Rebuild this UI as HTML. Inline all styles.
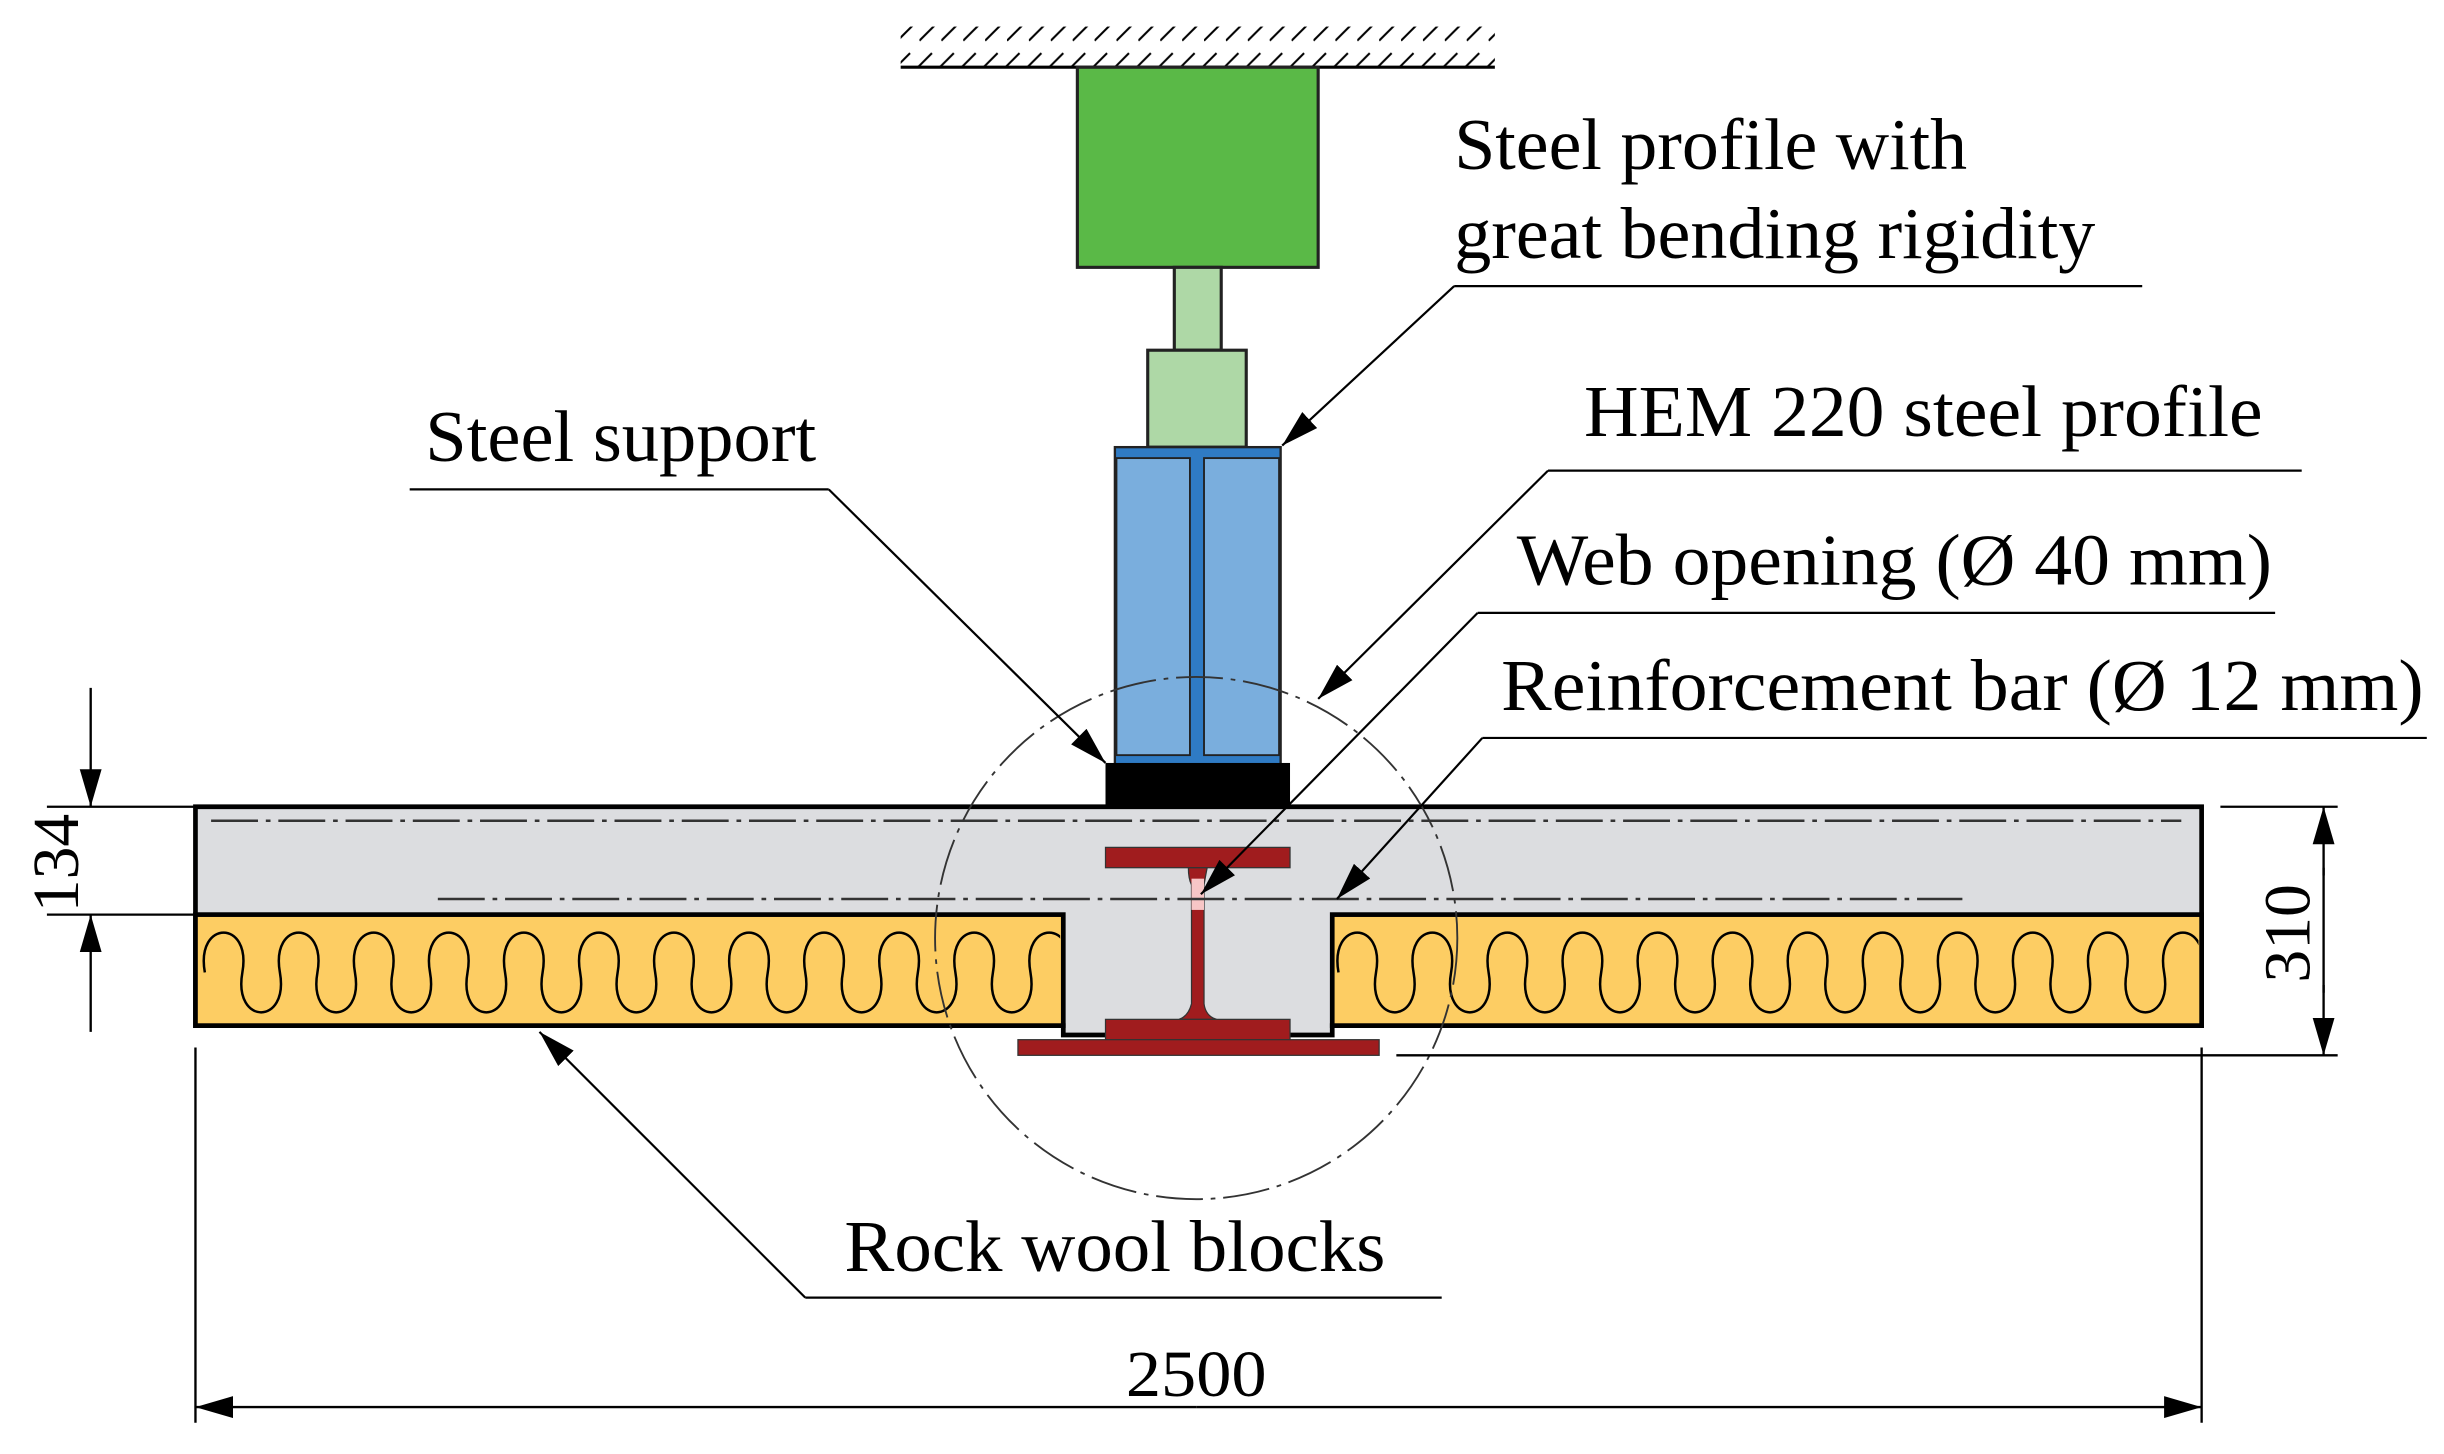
<!DOCTYPE html>
<html><head><meta charset="utf-8"><style>
html,body{margin:0;padding:0;background:#fff;}
svg{display:block;}
text{font-family:"Liberation Serif",serif;fill:#000;}
</style></head><body>
<svg width="2444" height="1454" viewBox="0 0 1563 930" preserveAspectRatio="none" xmlns="http://www.w3.org/2000/svg">
<defs>
<marker id="ah" markerUnits="userSpaceOnUse" markerWidth="26" markerHeight="14" refX="24" refY="7" orient="auto">
<path d="M0,0 L24,7 L0,14 Z" fill="#000"/>
</marker>
<clipPath id="cl"><rect x="127" y="587" width="551" height="67"/></clipPath>
<clipPath id="cr"><rect x="854" y="587" width="552" height="67"/></clipPath>
<pattern id="hatch" width="14" height="30" patternUnits="userSpaceOnUse">
<line x1="0" y1="26" x2="22" y2="4" stroke="#000" stroke-width="1.3"/>
<line x1="-14" y1="26" x2="8" y2="4" stroke="#000" stroke-width="1.3"/>
</pattern>
</defs>

<rect x="576" y="17" width="380" height="26" fill="url(#hatch)"/>
<line x1="576" y1="43" x2="956" y2="43" stroke="#000" stroke-width="2"/>

<rect x="689" y="43" width="154" height="128" fill="#5ab947" stroke="#222" stroke-width="2"/>
<rect x="751" y="171" width="30" height="53" fill="#aed8a6" stroke="#222" stroke-width="2"/>
<rect x="734" y="224" width="63" height="62" fill="#aed8a6" stroke="#222" stroke-width="2"/>

<rect x="713" y="286" width="106" height="204" fill="#2f7bc4" stroke="#222" stroke-width="1.5"/>
<rect x="714" y="293" width="47" height="190" fill="#7aaedd" stroke="#222" stroke-width="1.2"/>
<rect x="770" y="293" width="48" height="190" fill="#7aaedd" stroke="#222" stroke-width="1.2"/>

<rect x="707" y="488" width="118" height="28" fill="#000"/>

<path d="M125,516 H1408 V656 H852 V662 H680 V656 H125 Z" fill="#dcdde0" stroke="#000" stroke-width="3"/>
<rect x="125" y="585" width="555" height="71" fill="#fdcd63" stroke="#000" stroke-width="3"/>
<rect x="852" y="585" width="556" height="71" fill="#fdcd63" stroke="#000" stroke-width="3"/>
<g fill="none" stroke="#000" stroke-width="1.6">
<path clip-path="url(#cl)" d="M131,622 c-6,-34 30,-34 24,0 c-6,34 30,34 24,0 c-6,-34 30,-34 24,0 c-6,34 30,34 24,0 c-6,-34 30,-34 24,0 c-6,34 30,34 24,0 c-6,-34 30,-34 24,0 c-6,34 30,34 24,0 c-6,-34 30,-34 24,0 c-6,34 30,34 24,0 c-6,-34 30,-34 24,0 c-6,34 30,34 24,0 c-6,-34 30,-34 24,0 c-6,34 30,34 24,0 c-6,-34 30,-34 24,0 c-6,34 30,34 24,0 c-6,-34 30,-34 24,0 c-6,34 30,34 24,0 c-6,-34 30,-34 24,0 c-6,34 30,34 24,0 c-6,-34 30,-34 24,0 c-6,34 30,34 24,0 c-6,-34 30,-34 24,0 c-6,34 30,34 24,0"/>
<path clip-path="url(#cr)" d="M856,622 c-6,-34 30,-34 24,0 c-6,34 30,34 24,0 c-6,-34 30,-34 24,0 c-6,34 30,34 24,0 c-6,-34 30,-34 24,0 c-6,34 30,34 24,0 c-6,-34 30,-34 24,0 c-6,34 30,34 24,0 c-6,-34 30,-34 24,0 c-6,34 30,34 24,0 c-6,-34 30,-34 24,0 c-6,34 30,34 24,0 c-6,-34 30,-34 24,0 c-6,34 30,34 24,0 c-6,-34 30,-34 24,0 c-6,34 30,34 24,0 c-6,-34 30,-34 24,0 c-6,34 30,34 24,0 c-6,-34 30,-34 24,0 c-6,34 30,34 24,0 c-6,-34 30,-34 24,0 c-6,34 30,34 24,0 c-6,-34 30,-34 24,0 c-6,34 30,34 24,0"/>
</g>

<g fill="#a01c1e" stroke="#333" stroke-width="0.8">
<rect x="707" y="542" width="118" height="13"/>
<path d="M760,555 Q760,562 762,566 V642 Q760,650 754,652 H778 Q771,650 770,642 V566 Q771,560 772,555 Z"/>
<rect x="707" y="652" width="118" height="13"/>
<rect x="651" y="665" width="231" height="10"/>
</g>
<rect x="762" y="562" width="8" height="20" fill="#f7c6c6"/>

<g stroke="#333" stroke-width="1.6" stroke-dasharray="30 5 3 5" fill="none">
<line x1="135" y1="525" x2="1395" y2="525"/>
<line x1="280" y1="575" x2="1255" y2="575"/>
<circle cx="765" cy="600" r="167" stroke-width="1.2"/>
</g>

<g stroke="#000" stroke-width="1.5" fill="none">
<line x1="30" y1="516" x2="125" y2="516"/>
<line x1="30" y1="585" x2="125" y2="585"/>
<line x1="58" y1="440" x2="58" y2="516" marker-end="url(#ah)"/>
<line x1="58" y1="660" x2="58" y2="585" marker-end="url(#ah)"/>
<line x1="1420" y1="516" x2="1495" y2="516"/>
<line x1="893" y1="675" x2="1495" y2="675"/>
<line x1="1486" y1="560" x2="1486" y2="516" marker-end="url(#ah)"/>
<line x1="1486" y1="630" x2="1486" y2="675" marker-end="url(#ah)"/>
<line x1="1486" y1="555" x2="1486" y2="635"/>
<line x1="125" y1="670" x2="125" y2="910"/>
<line x1="1408" y1="670" x2="1408" y2="910"/>
<line x1="765" y1="900" x2="125" y2="900" marker-end="url(#ah)"/>
<line x1="765" y1="900" x2="1408" y2="900" marker-end="url(#ah)"/>
</g>
<text x="0" y="0" font-size="42" transform="translate(50,552) rotate(-90)" text-anchor="middle">134</text>
<text x="0" y="0" font-size="42" transform="translate(1477,597) rotate(-90)" text-anchor="middle">310</text>
<text x="720" y="893" font-size="42" textLength="90" lengthAdjust="spacingAndGlyphs">2500</text>

<g stroke="#000" stroke-width="1.4" fill="none">
<line x1="930" y1="183" x2="1370" y2="183"/>
<line x1="930" y1="183" x2="820" y2="285" marker-end="url(#ah)"/>
<line x1="262" y1="313" x2="530" y2="313"/>
<line x1="530" y1="313" x2="707" y2="488" marker-end="url(#ah)"/>
<line x1="990" y1="301" x2="1472" y2="301"/>
<line x1="990" y1="301" x2="843" y2="447" marker-end="url(#ah)"/>
<line x1="945" y1="392" x2="1455" y2="392"/>
<line x1="945" y1="392" x2="768" y2="572" marker-end="url(#ah)"/>
<line x1="948" y1="472" x2="1552" y2="472"/>
<line x1="948" y1="472" x2="855" y2="575" marker-end="url(#ah)"/>
<line x1="515" y1="830" x2="922" y2="830"/>
<line x1="515" y1="830" x2="345" y2="660" marker-end="url(#ah)"/>
</g>

<g font-size="47">
<text x="930" y="108" textLength="328" lengthAdjust="spacingAndGlyphs">Steel profile with</text>
<text x="930" y="165" textLength="410" lengthAdjust="spacingAndGlyphs">great bending rigidity</text>
<text x="272" y="295" textLength="250" lengthAdjust="spacingAndGlyphs">Steel support</text>
<text x="1013" y="279" textLength="434" lengthAdjust="spacingAndGlyphs">HEM 220 steel profile</text>
<text x="970" y="374" textLength="483" lengthAdjust="spacingAndGlyphs">Web opening (Ø 40 mm)</text>
<text x="960" y="454" textLength="590" lengthAdjust="spacingAndGlyphs">Reinforcement bar (Ø 12 mm)</text>
<text x="540" y="813" textLength="346" lengthAdjust="spacingAndGlyphs">Rock wool blocks</text>
</g>
</svg>
</body></html>
